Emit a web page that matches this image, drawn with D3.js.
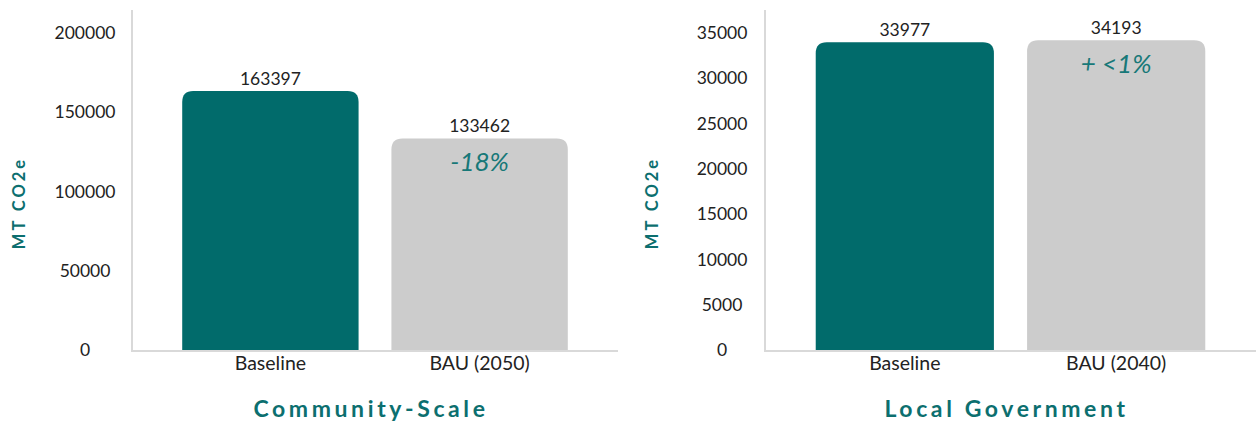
<!DOCTYPE html>
<html>
<head>
<meta charset="utf-8">
<script src="https://cdn.jsdelivr.net/npm/d3@7"></script>
<style>
  body { margin: 0; background: #fff; }
  svg { display: block; font-family: Lato, "Noto Sans", sans-serif; }
</style>
</head>
<body>
<div id="chart"></div>
<script>
// community-scale chart
const communityCategories = ['Baseline', 'BAU (2050)']
const communityValues = [163397, 133462]
const communityTicks = [0, 50000, 100000, 150000, 200000]
const communityChange = '-18%'

// local government chart
const govCategories = ['Baseline', 'BAU (2040)']
const govValues = [33977, 34193]
const govTicks = [0, 5000, 10000, 15000, 20000, 25000, 30000, 35000]
const govChange = '+ <1%'

const titles = ['Community-Scale', 'Local Government']
const yLabel = 'MT CO2e'
const barColors = ['#016b6b', '#cccccc']

const svg = d3.select('#chart').append('svg')
  .attr('width', 1256)
  .attr('height', 423)

// path for a bar with rounded top corners
function topRounded(x, y, w, h, r) {
  r = Math.min(r, h, w / 2)
  return 'M' + x + ',' + (y + h) +
    'V' + (y + r) +
    'Q' + x + ',' + y + ' ' + (x + r) + ',' + y +
    'H' + (x + w - r) +
    'Q' + (x + w) + ',' + y + ' ' + (x + w) + ',' + (y + r) +
    'V' + (y + h) + 'Z'
}

function drawPanel(opts) {
  const g = svg.append('g')

  const x = d3.scaleBand()
    .domain(opts.categories)
    .range([opts.left, opts.right])
    .paddingInner(0.157)
    .paddingOuter(0.24)

  const y = d3.scaleLinear()
    .domain([0, opts.yMax])
    .range([350, 10])

  // bars
  g.selectAll('path.bar')
    .data(opts.values)
    .enter()
    .append('path')
    .attr('class', 'bar')
    .attr('d', function (d, i) {
      return topRounded(x(opts.categories[i]), y(d), x.bandwidth(), y(0) - y(d), 11)
    })
    .attr('fill', function (d, i) { return barColors[i] })

  // y axis line + tick labels (centered text)
  g.append('line')
    .attr('x1', opts.left).attr('x2', opts.left)
    .attr('y1', y(opts.yMax)).attr('y2', y(0))
    .attr('stroke', '#d9d9d9').attr('stroke-width', 2)

  g.selectAll('text.ytick')
    .data(opts.ticks)
    .enter()
    .append('text')
    .attr('class', 'ytick')
    .attr('x', opts.left - opts.tickOffset)
    .attr('y', function (d) { return y(d) })
    .attr('dy', '0.35em')
    .attr('text-anchor', 'middle')
    .attr('font-size', 17.5)
    .attr('fill', '#222')
    .text(function (d) { return d })

  // x axis line
  g.append('line')
    .attr('x1', opts.left - 1).attr('x2', opts.right)
    .attr('y1', y(0) + 1).attr('y2', y(0) + 1)
    .attr('stroke', '#d9d9d9').attr('stroke-width', 2)

  // category labels
  g.selectAll('text.xlab')
    .data(opts.categories)
    .enter()
    .append('text')
    .attr('class', 'xlab')
    .attr('x', function (d) { return x(d) + x.bandwidth() / 2 })
    .attr('y', 370)
    .attr('text-anchor', 'middle')
    .attr('font-size', 19.5)
    .attr('fill', '#222')
    .text(function (d) { return d })

  // value labels
  g.selectAll('text.val')
    .data(opts.values)
    .enter()
    .append('text')
    .attr('class', 'val')
    .attr('x', function (d, i) { return x(opts.categories[i]) + x.bandwidth() / 2 })
    .attr('y', function (d) { return y(d) - 6 })
    .attr('text-anchor', 'middle')
    .attr('font-size', 17.5)
    .attr('fill', '#222')
    .text(function (d) { return d })

  // change annotation on second bar
  const last = opts.categories.length - 1
  g.append('text')
    .attr('x', x(opts.categories[last]) + x.bandwidth() / 2)
    .attr('y', y(opts.values[last]) + 33)
    .attr('text-anchor', 'middle')
    .attr('font-size', 26)
    .attr('font-style', 'italic')
    .attr('fill', '#177878')
    .text(opts.change)

  // y axis title
  g.append('text')
    .attr('transform', 'translate(' + (opts.left - 107) + ',203) rotate(-90)')
    .attr('text-anchor', 'middle')
    .attr('font-size', 16.5)
    .attr('font-weight', 'bold')
    .attr('letter-spacing', 3)
    .attr('fill', '#0c6f6f')
    .text(yLabel)

  // panel title
  g.append('text')
    .attr('x', (x(opts.categories[0]) + x(opts.categories[last]) + x.bandwidth()) / 2 - 4)
    .attr('y', 417)
    .attr('text-anchor', 'middle')
    .attr('font-size', 23)
    .attr('font-weight', 'bold')
    .attr('letter-spacing', 3.6)
    .attr('fill', '#0c6f6f')
    .text(opts.title)
}

drawPanel({
  categories: communityCategories, values: communityValues, ticks: communityTicks,
  change: communityChange, title: titles[0],
  left: 132, right: 618, yMax: 214500, tickOffset: 47
})

drawPanel({
  categories: govCategories, values: govValues, ticks: govTicks,
  change: govChange, title: titles[1],
  left: 765, right: 1256, yMax: 37540, tickOffset: 43
})
</script>
</body>
</html>
